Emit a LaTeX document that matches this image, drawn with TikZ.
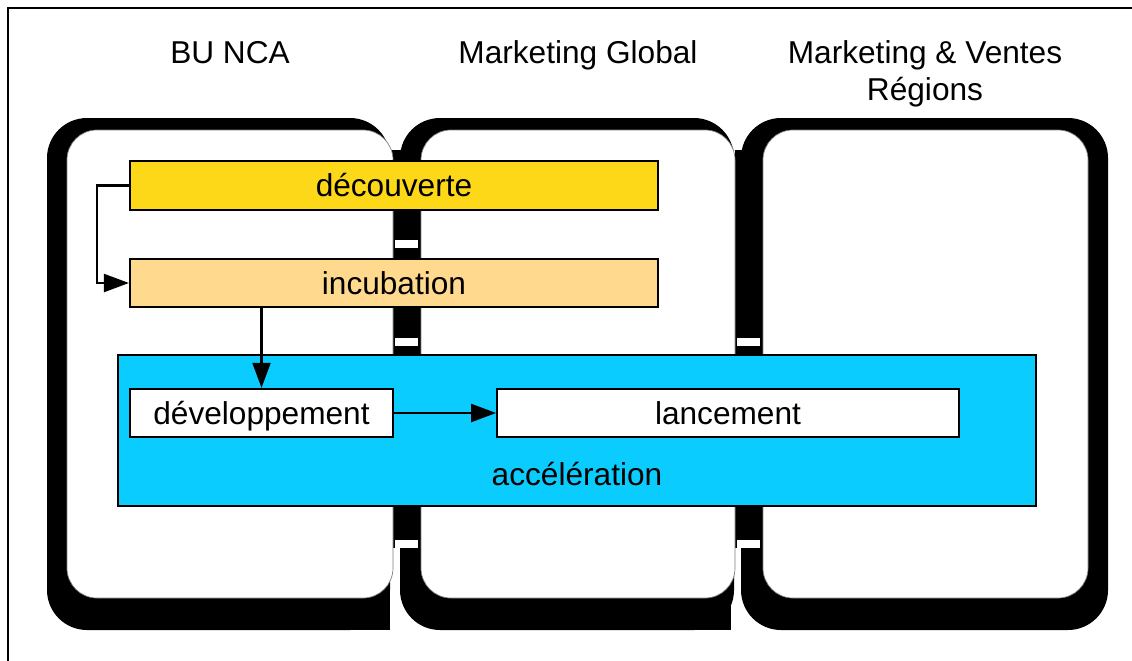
\documentclass[tikz,border=0pt]{standalone}
\usepackage{fontspec}
\setmainfont{Liberation Sans}
\usetikzlibrary{arrows.meta,positioning}

\definecolor{goldbox}{RGB}{253,216,24}
\definecolor{sandbox}{RGB}{255,217,142}
\definecolor{skyblue}{RGB}{10,204,255}

\tikzset{
	phase/.style={draw, line width=1.3pt, minimum height=0.97cm, inner sep=0pt, text height=13pt, text depth=0pt, font=\fontsize{18}{21}\selectfont},
	head/.style={font=\fontsize{18}{21}\selectfont, align=center, inner sep=0pt},
	flow/.style={line width=1.3pt, -{Triangle[length=0.5cm,width=0.36cm]}},
}

\begin{document}
\begin{tikzpicture}[x=0.02cm, y=-0.02cm]
	\useasboundingbox (0,0) rectangle (1132,660);
	% Draw the outer frame
	\draw[line width=0.8pt] (8,8) rectangle (1150,680);
	
	% Column titles
	\node[head, anchor=base] (bunca) at (230,63) {BU NCA};
	\node[head, anchor=base] (mglobal) at (578,63) {Marketing Global};
	\node[head, anchor=base] (mventes) at (925,100) {Marketing \& Ventes\\Régions};
	
	% Black frames behind the panels
	\foreach \bl/\br in {47/390, 400/734, 741/1108} {
		\fill[rounded corners=0.8cm] (\bl,118) rectangle (\br,630);
	}
	% square lower right corners of the first two frames
	\fill (350,590) rectangle (390,630);
	\fill (694,590) rectangle (731,630);
	% Black bands between panels, with small white notches
	\fill (392,150) rectangle (421,548);
	\fill (735,150) rectangle (760,548);
	\foreach \x/\y in {395/240, 395/338, 395/540, 737/338, 737/540} {
		\fill[white] (\x,\y) rectangle ++(23,8);
	}
	% White panels
	\foreach \wl/\wr in {67/393, 421/735, 763/1088} {
		\draw[gray, fill=white, rounded corners=0.6cm] (\wl,130) rectangle (\wr,598);
	}
	
	% Phase boxes
	\node[phase, fill=goldbox, minimum width=10.56cm] (decouverte) at (394,185.5) {découverte};
	\node[phase, fill=sandbox, minimum width=10.56cm] (incubation) at (394,283) {incubation};
	\node[phase, fill=skyblue, line width=1pt, minimum width=18.36cm, minimum height=3.02cm] (acceleration) at (577,430.5) {};
	\node[head] (acclabel) at (577,474) {accélération};
	\node[phase, fill=white, line width=1.1pt, minimum width=5.26cm] (developpement) at (261.5,413) {développement};
	\node[phase, fill=white, line width=1.1pt, minimum width=9.24cm] (lancement) at (728,413) {lancement};
	
	% Arrows between the phases
	\draw[flow] (decouverte.west) -- ++(-32,0) |- (incubation.west);
	\draw[flow] (incubation.south -| developpement.north) -- (developpement.north);
	\draw[flow] (developpement.east) -- (lancement.west);
\end{tikzpicture}
\end{document}
